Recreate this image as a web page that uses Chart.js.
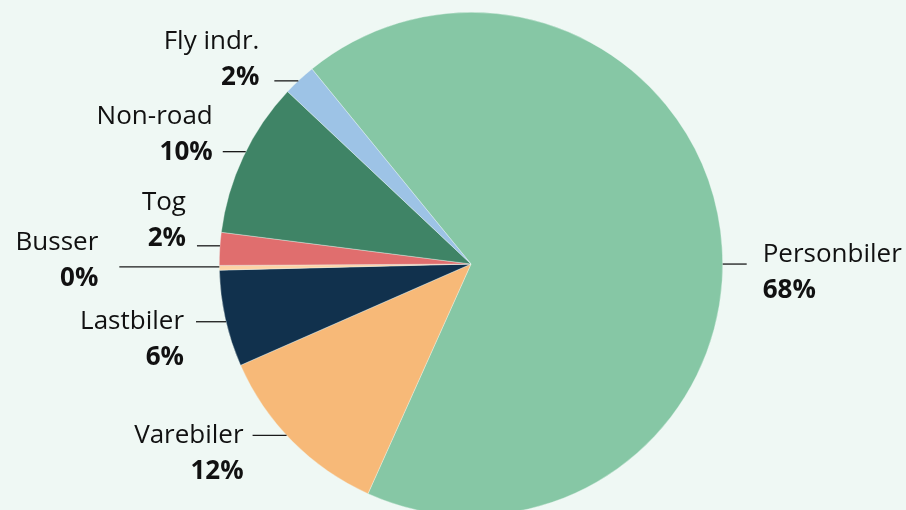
<!DOCTYPE html>
<html>
<head>
<meta charset="utf-8">
<script src="https://cdn.jsdelivr.net/npm/chart.js@4"></script>
<style>
  html, body { margin: 0; padding: 0; background: #eff8f4; overflow: hidden; }
  #wrap { width: 906px; height: 510px; overflow: hidden; }
</style>
</head>
<body>
<div id="wrap"><canvas id="pieChart" width="906" height="530"></canvas></div>
<script>
// data
const labels = ['Personbiler', 'Varebiler', 'Lastbiler', 'Busser', 'Tog', 'Non-road', 'Fly indr.'];
const shares = [67.6, 11.7, 6.2, 0.3, 2.1, 10.0, 2.1];
const colors = ['#86c7a5', '#f7b978', '#11314d', '#fdd3a6', '#e06e6e', '#3f8466', '#9dc3e6'];

// label layout: nudge of leader line from slice middle, line length, gap to text, text offset
const labelNudge = [33, -6, 3, -1, -3, -5, 1];
const lineLen = [24, 34, 30, 100, 23, 23, 24];
const textGap = [16, 9, 12, 21, 11, 10, 15];
const nameOffset = [-9, 0, 0, -24, -43, -35, -39];

const pieLabels = {
    id: 'pieLabels',
    afterDatasetsDraw(chart) {
        const ctx = chart.ctx;
        const meta = chart.getDatasetMeta(0);
        const total = shares.reduce((a, b) => a + b, 0);
        meta.data.forEach((arc, i) => {
            const {x, y, startAngle, endAngle, outerRadius} = arc.getProps(['x', 'y', 'startAngle', 'endAngle', 'outerRadius'], true);
            const mid = (startAngle + endAngle) / 2;
            const right = Math.cos(mid) >= 0;
            const ly = y + outerRadius * Math.sin(mid) + labelNudge[i];
            const dy = ly - y;
            const dx = Math.sqrt(Math.max(outerRadius * outerRadius - dy * dy, 0));
            const x0 = right ? x + dx : x - dx;
            const x1 = right ? x0 + lineLen[i] : x0 - lineLen[i];

            ctx.save();
            ctx.strokeStyle = '#1a1a1a';
            ctx.lineWidth = 1.3;
            ctx.beginPath();
            ctx.moveTo(x0, ly);
            ctx.lineTo(x1, ly);
            ctx.stroke();

            const tx = right ? x1 + textGap[i] : x1 - textGap[i];
            ctx.textAlign = right ? 'left' : 'right';
            ctx.textBaseline = 'middle';
            ctx.fillStyle = '#111';
            ctx.font = '26px "Open Sans"';
            ctx.fillText(labels[i], tx, ly + nameOffset[i]);
            ctx.font = 'bold 26px "Open Sans"';
            const pct = Math.round(shares[i] / total * 100);
            ctx.fillText(pct + '%', tx, ly + nameOffset[i] + 36);
            ctx.restore();
        });
    }
};

const ctxPie = document.getElementById('pieChart').getContext('2d');
new Chart(ctxPie, {
    type: 'pie',
    data: {
        labels: labels,
        datasets: [{
            data: shares,
            backgroundColor: colors,
            borderColor: 'rgba(239,248,244,0.6)',
            borderWidth: 0.6
        }]
    },
    options: {
        responsive: false,
        animation: false,
        rotation: -39.2,
        layout: {padding: {top: 12, bottom: 14, left: 219, right: 183}},
        plugins: {
            legend: {display: false},
            tooltip: {enabled: false}
        }
    },
    plugins: [pieLabels]
});
</script>
</body>
</html>
